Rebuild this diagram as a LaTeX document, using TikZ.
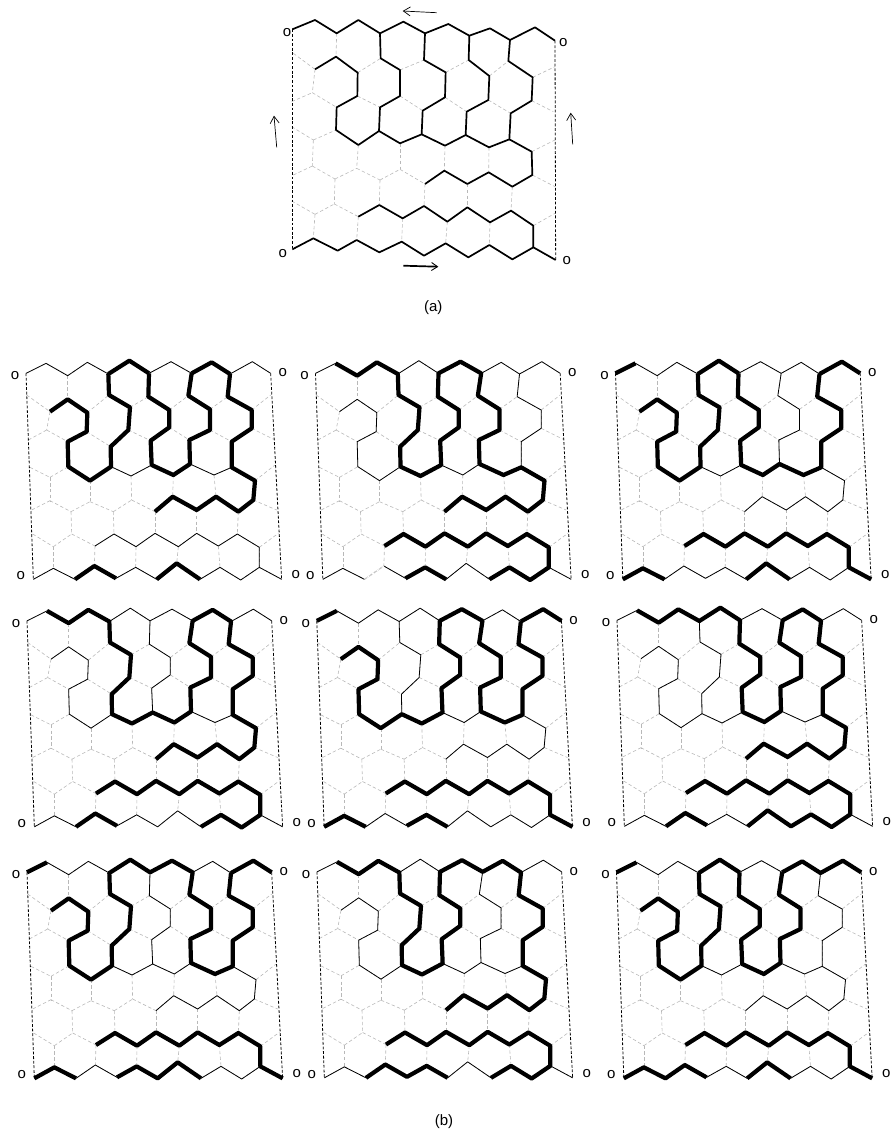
\documentclass[tikz,border=0pt]{standalone}
\usepackage{fontspec}
\setmainfont{Liberation Sans}
\usetikzlibrary{arrows.meta}
\tikzset{
  lattice/.style={draw=black!28,line width=0.6pt,dash pattern=on 3.4pt off 2.4pt},
  wall/.style={draw=black,line width=0.8pt,dash pattern=on 2.8pt off 1.8pt},
  thinA/.style={draw=black,line width=1.7pt,line join=round},
  thinB/.style={draw=black,line width=0.8pt,line join=round},
  heavy/.style={draw=black,line width=4.2pt,line join=round},
  endlabel/.style={font=\fontsize{15}{15}\selectfont,inner sep=0pt},
  caption/.style={font=\fontsize{15}{15}\selectfont,inner sep=0pt},
  flow/.style={draw=black,line width=0.7pt,-{Straight Barb[length=7pt,width=9pt,line width=0.7pt]}},
  flowbold/.style={draw=black,line width=1.7pt,-{Straight Barb[length=6pt,width=8pt,line width=0.9pt]}}
}
\def\latA{%
0/0/97/88,0/1/165/60,0/2/230/100,0/3/295/60,0/4/360/100,0/5/430/65,0/6/495/100,0/7/565/72,0/8/628/107,0/9/690/85,0/10/750/120,0/11/825/82,0/12/885/122,%
1/0/100/160,1/1/165/208,1/2/228/170,1/3/293/218,1/4/362/175,1/5/420/210,1/6/492/180,1/7/557/217,1/8/626/180,1/9/688/228,1/10/745/183,1/11/818/232,1/12/885/200,%
2/0/95/305,2/1/157/278,2/2/230/322,2/3/292/288,2/4/360/322,2/5/420/288,2/6/488/332,2/7/555/292,2/8/620/335,2/9/685/300,2/10/752/340,2/11/815/302,2/12/880/335,%
3/0/95/380,3/1/160/420,3/2/228/390,3/3/295/435,3/4/357/393,3/5/420/430,3/6/485/403,3/7/555/437,3/8/617/405,3/9/687/442,3/10/748/418,3/11/815/455,3/12/885/420,%
4/0/100/525,4/1/157/498,4/2/225/537,4/3/290/505,4/4/360/540,4/5/420/508,4/6/495/552,4/7/553/512,4/8/622/552,4/9/686/517,4/10/757/560,4/11/817/525,4/12/885/560,%
5/0/95/603,5/1/165/643,5/2/223/612,5/3/295/650,5/4/358/615,5/5/428/655,5/6/492/618,5/7/562/665,5/8/622/622,5/9/690/667,5/10/753/632,5/11/820/677,5/12/885/640,%
6/0/97/748,6/1/160/715,6/2/233/752,6/3/290/720,6/4/358/757,6/5/425/725,6/6/492/767,6/7/557/730,6/8/625/772,6/9/688/735,6/10/757/778,6/11/820/742,6/12/887/780}
\def\latB{%
0/0/78/70,0/1/138/40,0/2/203/77,0/3/262/37,0/4/325/72,0/5/388/32,0/6/447/70,0/7/513/35,0/8/575/70,0/9/635/37,0/10/690/72,0/11/757/35,0/12/812/70,%
1/0/80/135,1/1/150/185,1/2/203/148,1/3/262/188,1/4/327/135,1/5/390/172,1/6/445/140,1/7/508/180,1/8/565/137,1/9/630/178,1/10/683/140,1/11/755/180,1/12/812/135,%
2/0/85/270,2/1/140/240,2/2/203/275,2/3/260/245,2/4/332/290,2/5/385/240,2/6/452/272,2/7/508/232,2/8/568/270,2/9/630/240,2/10/695/275,2/11/755/235,2/12/825/270,%
3/0/90/352,3/1/150/382,3/2/205/350,3/3/270/392,3/4/333/350,3/5/393/378,3/6/455/345,3/7/520/375,3/8/570/342,3/9/642/375,3/10/695/352,3/11/765/392,3/12/825/345,%
4/0/95/480,4/1/150/452,4/2/213/485,4/3/270/455,4/4/340/485,4/5/395/450,4/6/465/485,4/7/518/440,4/8/590/480,4/9/648/440,4/10/715/485,4/11/760/450,4/12/830/480,%
5/0/98/552,5/1/160/590,5/2/215/552,5/3/285/588,5/4/342/552,5/5/408/590,5/6/465/550,5/7/535/590,5/8/590/550,5/9/655/588,5/10/712/552,5/11/778/592,5/12/835/550,%
6/0/100/688,6/1/160/655,6/2/225/688,6/3/283/648,6/4/348/685,6/5/407/652,6/6/470/688,6/7/530/640,6/8/600/688,6/9/660/652,6/10/722/690,6/11/778/652,6/12/845/688}
% a polyline through named lattice points of the current panel
\newcommand\poly[2]{%
  \foreach \nn [count=\cnt] in {#2}{%
    \ifnum\cnt=1 \xdef\pth{(\pid-\nn)}\else\xdef\pth{\pth -- (\pid-\nn)}\fi}%
  \draw[#1] \pth;}
\newcommand\grid{%
  \foreach \r in {0,...,6}{\foreach \i [count=\j from 1] in {0,...,11}{\draw[lattice] (\pid-\r-\i) -- (\pid-\r-\j);}}%
  \foreach \r/\s in {0/1,2/3,4/5}{\foreach \i in {2,4,6,8,10}{\draw[lattice] (\pid-\r-\i) -- (\pid-\s-\i);}}%
  \foreach \r/\s in {1/2,3/4,5/6}{\foreach \i in {1,3,5,7,9,11}{\draw[lattice] (\pid-\r-\i) -- (\pid-\s-\i);}}%
  \draw[wall] (\pid-0-0) -- (\pid-6-0);
  \draw[wall] (\pid-0-12) -- (\pid-6-12);}
\newcommand\net[1]{%
  \poly{#1}{0-0,0-1,0-2,0-3,0-4,0-5,0-6,0-7,0-8,0-9,0-10,0-11,0-12}%
  \poly{#1}{1-1,1-2,1-3,2-3,2-2,3-2,3-3,3-4,2-4,2-5,1-5,1-4,0-4}%
  \poly{#1}{3-4,3-5,3-6,2-6,2-7,1-7,1-6,0-6}%
  \poly{#1}{3-6,3-7,3-8,2-8,2-9,1-9,1-8,0-8}%
  \poly{#1}{3-8,3-9,3-10,2-10,2-11,1-11,1-10,0-10}%
  \poly{#1}{3-10,3-11,4-11,4-10,4-9,4-8,4-7,4-6}%
  \poly{#1}{5-3,5-4,5-5,5-6,5-7,5-8,5-9,5-10,5-11,6-11}%
  \poly{#1}{6-0,6-1,6-2,6-3,6-4,6-5,6-6,6-7,6-8,6-9,6-10,6-11,6-12}}
% panel of (b): id, dx, dy
\newcommand\panel[3]{%
  \def\pid{#1}%
  \foreach \r/\i/\x/\y in \latB {\coordinate (#1-\r-\i) at ({#2+\x/3},{#3+350+\y/3});}%
  \grid\net{thinB}%
  \node[endlabel] (#1-tl) at ({#2+15},{#3+375.7}) {o};
  \node[endlabel] (#1-tr) at ({#2+282.7},{#3+372.7}) {o};
  \node[endlabel] (#1-bl) at ({#2+20.7},{#3+576}) {o};
  \node[endlabel] (#1-br) at ({#2+295.7},{#3+575}) {o};}
\newcommand\hv[1]{\poly{heavy}{#1}}
\begin{document}
\begin{tikzpicture}[x=1pt,y=-1pt]
\useasboundingbox (0,0) rectangle (891,1140);
% ---------- (a)
\def\pid{a}
\foreach \r/\i/\x/\y in \latA {\coordinate (a-\r-\i) at ({260+\x/3},{\y/3});}
\grid\net{thinA}
\node[endlabel] (a-tl) at (287,33) {o};
\node[endlabel] (a-tr) at (563.3,42.3) {o};
\node[endlabel] (a-bl) at (282.7,254) {o};
\node[endlabel] (a-br) at (566.7,261) {o};
\coordinate (ar1s) at (436.7,12.7); \coordinate (ar1e) at (402.7,11);
\coordinate (ar2s) at (276.7,147.3); \coordinate (ar2e) at (274,115.7);
\coordinate (ar3s) at (572.7,144.3); \coordinate (ar3e) at (570.7,112.7);
\coordinate (ar4s) at (403.3,265.7); \coordinate (ar4e) at (438.3,266.7);
\draw[flow] (ar1s) -- (ar1e);
\draw[flow] (ar2s) -- (ar2e);
\draw[flow] (ar3s) -- (ar3e);
\draw[flowbold] (ar4s) -- (ar4e);
\node[caption] (capa) at (433.3,308) {(a)};
\node[caption] (capb) at (444,1122) {(b)};
% ---------- panel 1
\panel{p1}{0}{0}
\hv{0-4,0-5,0-6}\hv{0-8,0-9,0-10}
\hv{1-1,1-2,1-3,2-3,2-2,3-2,3-3,3-4,2-4,2-5,1-5,1-4,0-4}
\hv{0-6,1-6,1-7,2-7,2-6,3-6,3-7,3-8,2-8,2-9,1-9,1-8,0-8}
\hv{0-10,1-10,1-11,2-11,2-10,3-10,3-11,4-11,4-10,4-9,4-8,4-7,4-6}
\hv{6-2,6-3,6-4}\hv{6-6,6-7,6-8}
% ---------- panel 2
\panel{p2}{289.5}{0}
\draw[white,line width=1.4pt] (p2-6-2) -- (p2-6-3);
\draw[lattice] (p2-6-2) -- (p2-6-3);
\hv{0-1,0-2,0-3,0-4,1-4,1-5,2-5,2-4,3-4,3-5,3-6,2-6,2-7,1-7,1-6,0-6,0-7,0-8,1-8,1-9,2-9,2-8,3-8,3-9,3-10,3-11,4-11,4-10,4-9,4-8,4-7,4-6}
\hv{5-3,5-4,5-5,5-6,5-7,5-8,5-9,5-10,5-11,6-11,6-10,6-9,6-8}
\hv{6-4,6-5,6-6}
% ---------- panel 3
\panel{p3}{589.5}{0}
\hv{0-0,0-1}\hv{0-4,0-5,0-6}\hv{0-10,0-11,0-12}
\hv{1-1,1-2,1-3,2-3,2-2,3-2,3-3,3-4,2-4,2-5,1-5,1-4,0-4}
\hv{0-6,1-6,1-7,2-7,2-6,3-6,3-7,3-8,3-9,3-10,2-10,2-11,1-11,1-10,0-10}
\hv{5-3,5-4,5-5,5-6,5-7,5-8,5-9,5-10,5-11,6-11,6-12}
\hv{6-0,6-1,6-2}\hv{6-6,6-7,6-8}
% ---------- panel 4
\panel{p4}{1}{247.5}
\hv{0-1,0-2,0-3,0-4,1-4,1-5,2-5,2-4,3-4,3-5,3-6,3-7,3-8,2-8,2-9,1-9,1-8,0-8,0-9,0-10,1-10,1-11,2-11,2-10,3-10,3-11,4-11,4-10,4-9,4-8,4-7,4-6}
\hv{5-3,5-4,5-5,5-6,5-7,5-8,5-9,5-10,5-11,6-11,6-10,6-9,6-8}
\hv{6-2,6-3,6-4}
% ---------- panel 5
\panel{p5}{290.8}{247.5}
\hv{0-0,0-1}\hv{0-10,0-11,0-12}
\hv{1-1,1-2,1-3,2-3,2-2,3-2,3-3,3-4,3-5,3-6,2-6,2-7,1-7,1-6,0-6,0-7,0-8,1-8,1-9,2-9,2-8,3-8,3-9,3-10,2-10,2-11,1-11,1-10,0-10}
\hv{5-3,5-4,5-5,5-6,5-7,5-8,5-9,5-10,5-11,6-11,6-12}
\hv{6-0,6-1,6-2}\hv{6-4,6-5,6-6}
% ---------- panel 6
\panel{p6}{591}{247}
\hv{0-1,0-2,0-3,0-4,0-5,0-6,1-6,1-7,2-7,2-6,3-6,3-7,3-8,2-8,2-9,1-9,1-8,0-8,0-9,0-10,1-10,1-11,2-11,2-10,3-10,3-11,4-11,4-10,4-9,4-8,4-7,4-6}
\hv{5-3,5-4,5-5,5-6,5-7,5-8,5-9,5-10,5-11,6-11,6-10,6-9,6-8,6-7,6-6}
\hv{6-2,6-3,6-4}
% ---------- panel 7
\panel{p7}{1}{499}
\hv{0-0,0-1}\hv{0-10,0-11,0-12}
\hv{1-1,1-2,1-3,2-3,2-2,3-2,3-3,3-4,2-4,2-5,1-5,1-4,0-4,0-5,0-6,0-7,0-8,1-8,1-9,2-9,2-8,3-8,3-9,3-10,2-10,2-11,1-11,1-10,0-10}
\hv{5-3,5-4,5-5,5-6,5-7,5-8,5-9,5-10,5-11,6-11,6-12}
\hv{6-0,6-1,6-2}\hv{6-4,6-5,6-6,6-7,6-8}
% ---------- panel 8
\panel{p8}{291}{498.5}
\hv{0-1,0-2,0-3,0-4,1-4,1-5,2-5,2-4,3-4,3-5,3-6,2-6,2-7,1-7,1-6,0-6,0-7,0-8,0-9,0-10,1-10,1-11,2-11,2-10,3-10,3-11,4-11,4-10,4-9,4-8,4-7,4-6}
\hv{5-3,5-4,5-5,5-6,5-7,5-8,5-9,5-10,5-11,6-11,6-10,6-9,6-8}
\hv{6-2,6-3,6-4,6-5,6-6}
% ---------- panel 9
\panel{p9}{590.5}{499}
\hv{0-0,0-1}\hv{0-4,0-5,0-6}\hv{0-8,0-9,0-10,0-11,0-12}
\hv{1-1,1-2,1-3,2-3,2-2,3-2,3-3,3-4,2-4,2-5,1-5,1-4,0-4}
\hv{0-6,1-6,1-7,2-7,2-6,3-6,3-7,3-8,2-8,2-9,1-9,1-8,0-8}
\hv{5-3,5-4,5-5,5-6,5-7,5-8,5-9,5-10,5-11,6-11,6-12}
\hv{6-0,6-1,6-2,6-3,6-4}\hv{6-6,6-7,6-8}
\end{tikzpicture}
\end{document}
